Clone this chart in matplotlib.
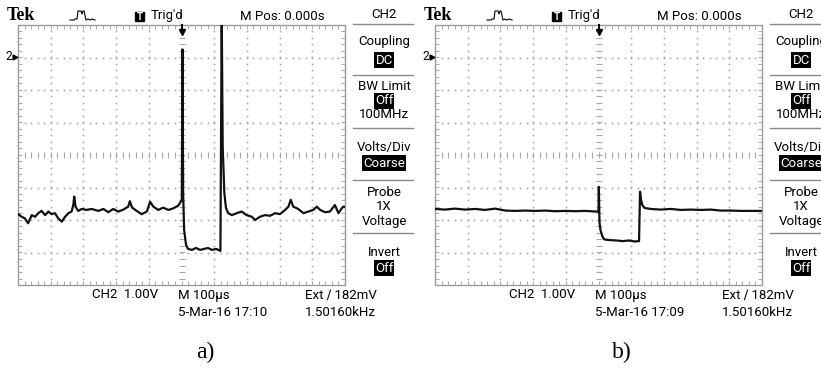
import numpy as np
import matplotlib.pyplot as plt
from matplotlib.patches import Rectangle
from matplotlib.lines import Line2D

# time in us (100 us/div, trigger at 0), CH2 in volts (1 V/div)
t_a = [-499, -489, -479, -469, -458, -448, -438, -428, -417, -407,
       -397, -387, -377, -366, -356, -346, -336, -331, -328, -324,
       -316, -305, -290, -275, -254, -239, -224, -209, -193, -178,
       -163, -158, -151, -137, -122, -106, -96, -86, -71, -56,
       -40, -25, -10, 1,
       3, 5, 8, 14, 20, 32, 44, 57, 69, 81, 93, 106, 119, 123, 126, 131, 136,
       143, 154, 169, 184, 199, 215, 225, 240, 255, 271,
       286, 301, 317, 327, 334, 342, 357, 373, 388, 403,
       414, 424, 439, 454, 469, 480, 490, 495, 500]
v_a = [-4.82, -4.90, -4.95, -5.10, -4.85, -4.90, -4.79, -4.72, -4.85, -4.74,
       -4.82, -4.79, -4.95, -5.05, -4.90, -4.79, -4.74, -4.54, -4.28, -4.59,
       -4.72, -4.66, -4.69, -4.66, -4.72, -4.66, -4.76, -4.66, -4.74, -4.68,
       -4.59, -4.42, -4.62, -4.72, -4.82, -4.74, -4.44, -4.59, -4.69, -4.62,
       -4.69, -4.64, -4.56, -4.38,
       0.25, -4.17, -5.31, -5.77, -5.89, -5.92, -5.86, -5.92, -5.89, -5.86,
       -5.92, -5.89, -5.95, 1.3, -2.75, -4.17, -4.63,
       -4.79, -4.85, -4.79, -4.74, -4.85, -4.90, -5.00, -4.90, -4.85, -4.87,
       -4.79, -4.82, -4.69, -4.59, -4.38, -4.59, -4.66, -4.79, -4.74, -4.69,
       -4.59, -4.69, -4.76, -4.74, -4.54, -4.79, -4.64, -4.59, -4.60]

t_b = [-500, -469, -439, -408, -377, -347, -316, -285, -255, -224,
       -193, -163, -132, -101, -71, -40, -9,
       0, 1, 3, 6, 12, 18, 37, 55, 74, 92, 110, 124,
       127, 130, 134, 141,
       160, 190, 221, 252, 282, 313, 344, 374, 405, 436, 466, 500]
v_b = [-4.66, -4.68, -4.65, -4.68, -4.66, -4.69, -4.65, -4.71, -4.72, -4.71,
       -4.72, -4.71, -4.73, -4.72, -4.73, -4.72, -4.74,
       -4.74, -3.98, -5.06, -5.31, -5.51, -5.60, -5.62, -5.63, -5.65, -5.63, -5.66, -5.65,
       -4.13, -4.38, -4.54, -4.63,
       -4.66, -4.68, -4.66, -4.69, -4.68, -4.69, -4.68, -4.71, -4.71, -4.72, -4.72, -4.72]

ch2_pos = 3  # ground marker, divisions above centre
menu = [("CH2", 15, False), ("Coupling", 42, False), ("DC", 60, True),
        ("BW Limit", 87, False), ("Off", 101, True), ("100MHz", 114, False),
        ("Volts/Div", 148, False), ("Coarse", 163, True),
        ("Probe", 192, False), ("1X", 207, False), ("Voltage", 222, False),
        ("Invert", 253, False), ("Off", 268, True)]
menu_lines = [24, 75, 128, 180, 233]

W, H = 821, 372
fig = plt.figure(figsize=(W / 100, H / 100), dpi=100)
SC = ['DejaVu Sans Condensed', 'Roboto', 'DejaVu Sans']
GRID = '#a8a8a8'


def txt(x, y, s, ha='left', size=9.5, family=SC, **kw):
    return fig.text(x / W, 1 - y / H, s, ha=ha, va='center', size=size,
                    family=family, **kw)


def screen(ox, t, v, date, label):
    ax = fig.add_axes([(ox + 18) / W, (H - 285) / H, 327 / W, 260 / H])
    ax.set_xlim(-500, 500)
    ax.set_ylim(-4, 4)
    ax.axis('off')
    xs = np.arange(-480, 481, 20)
    ys = np.arange(-3.8, 3.81, 0.2)
    for k in range(-3, 4):
        if k == 0:
            ax.plot(xs, np.zeros_like(xs), ls='none', marker='|', ms=4,
                    mew=0.8, color=GRID)
        else:
            ax.plot(xs, np.full(len(xs), k), ls='none', marker='s', ms=1.2,
                    mew=0, color=GRID)
    for k in range(-400, 401, 100):
        if k == 0:
            ax.plot(np.zeros_like(ys), ys, ls='none', marker='_', ms=4,
                    mew=0.8, color=GRID)
        else:
            ax.plot(np.full(len(ys), k), ys, ls='none', marker='s', ms=1.2,
                    mew=0, color=GRID)
    # border with small ticks
    ax.add_patch(Rectangle((0, 0), 1, 1, transform=ax.transAxes, fill=False,
                           ec='#9a9a9a', lw=1.0, clip_on=False))
    ax.plot(xs, np.full(len(xs), 3.93), ls='none', marker='|', ms=2.5, mew=0.7, color=GRID)
    ax.plot(xs, np.full(len(xs), -3.93), ls='none', marker='|', ms=2.5, mew=0.7, color=GRID)
    ax.plot(np.full(len(ys), -494), ys, ls='none', marker='_', ms=2.5, mew=0.7, color=GRID)
    ax.plot(np.full(len(ys), 494), ys, ls='none', marker='_', ms=2.5, mew=0.7, color=GRID)

    # trace
    ax.plot(t, np.array(v) + ch2_pos, color='#111111', lw=1.6)
    # trigger arrow
    ax.plot(0, 3.8, marker='v', ms=5, color='black', clip_on=False)
    ax.plot([0, 0], [3.82, 4.0], color='black', lw=1.5, clip_on=False)

    # ground marker
    txt(ox + 5, 57, "2", size=8.5)
    fig.add_artist(Line2D([(ox + 14.5) / W], [1 - 57 / H], marker='>', ms=3.5,
                          color='black'))

    # header
    txt(ox + 7, 15, "Tek", size=13, family='Liberation Serif', weight='bold')
    px = np.array([70, 74, 75, 77, 78, 81, 82, 83, 84, 86, 88, 90, 92, 95]) + ox
    py = [20, 20, 19, 19, 11, 11, 14, 11, 11, 20, 19, 20, 19, 20]
    fig.add_artist(Line2D(px / W, 1 - np.array(py) / H, color='black', lw=0.8))
    fig.add_artist(Rectangle(((ox + 135) / W, 1 - 21 / H), 9 / W, 9 / H,
                             color='black'))
    txt(ox + 139.5, 16.5, "T", ha='center', size=7, color='white', weight='bold')
    txt(ox + 151, 16, "Trig'd")
    txt(ox + 240, 16, "M Pos: 0.000s")

    # side menu
    cx = ox + 384
    for y in menu_lines:
        fig.add_artist(Line2D([(ox + 353) / W, (ox + 413) / W],
                              [1 - y / H, 1 - y / H], color='#888888', lw=1.0))
    for s, y, inv in menu:
        if inv:
            txt(cx, y, s, ha='center', color='white',
                bbox=dict(boxstyle='square,pad=0.08', fc='black', ec='none'))
        else:
            txt(cx, y, s, ha='center')

    # readout
    txt(ox + 92, 295, "CH2  1.00V")
    txt(ox + 178, 295, "M 100\u00b5s")
    txt(ox + 305, 295, "Ext \u2215 182mV")
    txt(ox + 178, 312, date)
    txt(ox + 305, 312, "1.50160kHz")
    txt(ox + 205, 352, label, ha='center', size=17, family='Liberation Serif')


screen(0, t_a, v_a, "5-Mar-16 17:10", "a)")
screen(417, t_b, v_b, "5-Mar-16 17:09", "b)")

fig.savefig("out.png", dpi=100)
